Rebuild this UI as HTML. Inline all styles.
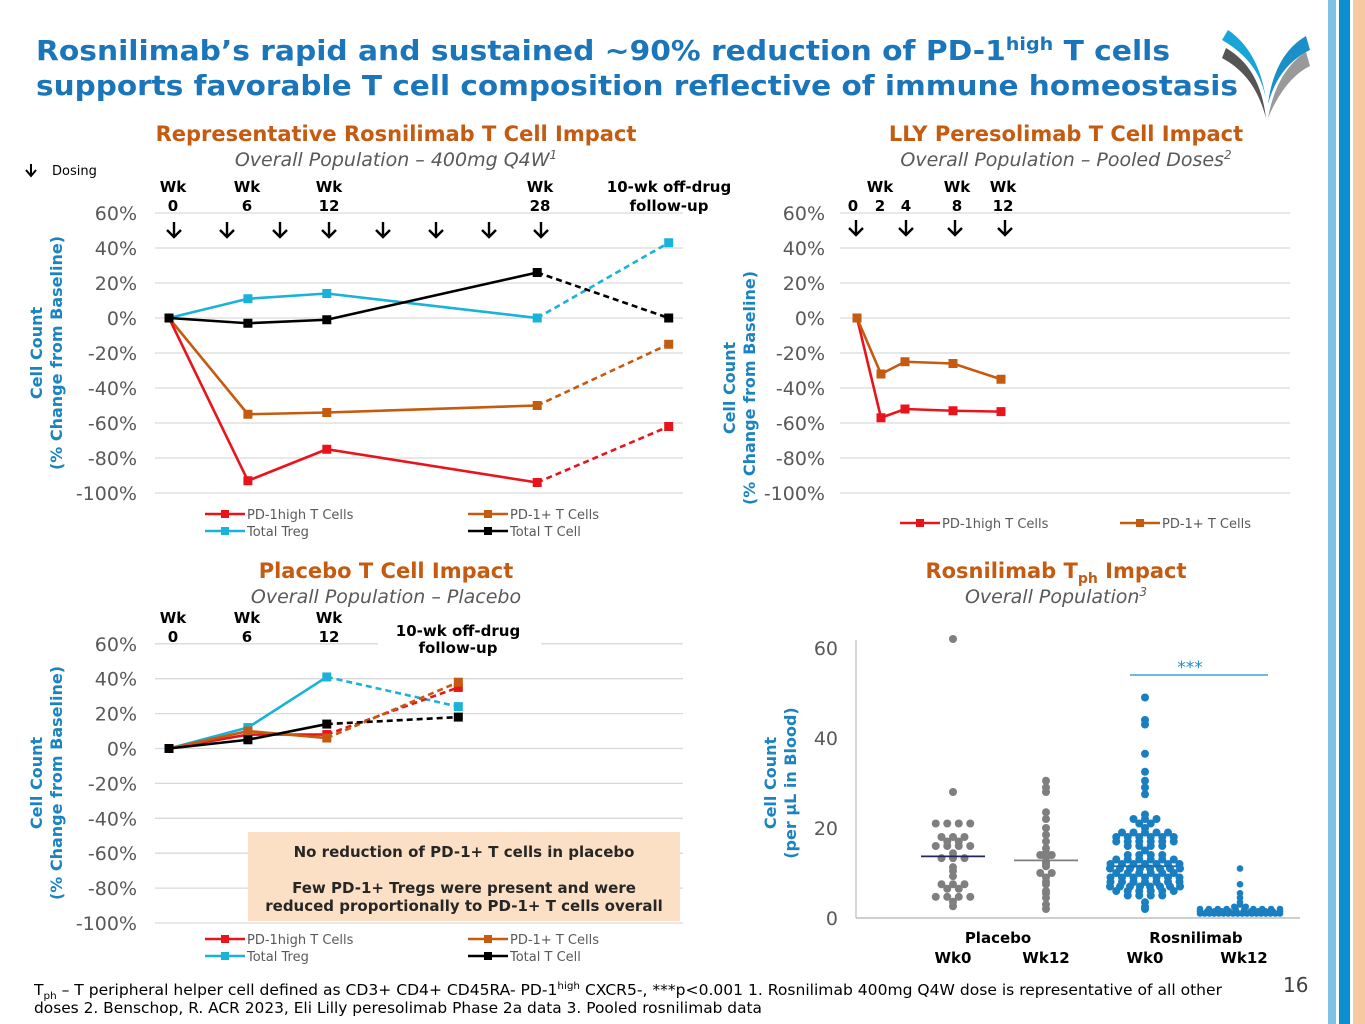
<!DOCTYPE html>
<html><head><meta charset="utf-8"><style>
body{margin:0;background:#fff}
svg{display:block;font-family:"DejaVu Sans","Liberation Sans",sans-serif}
</style></head><body>
<svg id="s" width="1365" height="1024" viewBox="0 0 1365 1024" xmlns="http://www.w3.org/2000/svg">
<rect width="1365" height="1024" fill="#fff"/>
<g>
<rect x="1328" y="0" width="8" height="1024" fill="#7cc3e6"/>
<rect x="1339" y="0" width="11" height="1024" fill="#0a8fd0"/>
<rect x="1353" y="0" width="12" height="1024" fill="#f7c9a0"/>
</g>
<g>
<path d="M1228 30 C1250 45 1262 70 1266 100 C1262 75 1248 55 1222 40 Z" fill="#1aa5d8"/>
<path d="M1226 48 C1250 62 1262 85 1266 118 C1258 88 1244 70 1222 58 Z" fill="#555"/>
<path d="M1306 36 C1285 48 1272 72 1268 104 C1276 76 1290 60 1310 50 Z" fill="#1a8fc8"/>
<path d="M1306 52 C1287 64 1274 86 1268 118 C1280 90 1294 74 1310 66 Z" fill="#999"/>
</g>
<text x="36" y="60" font-size="28" font-weight="bold" fill="#1b75bb" textLength="1134" lengthAdjust="spacingAndGlyphs">Rosnilimab’s rapid and sustained ~90% reduction of PD-1<tspan font-size="18" dy="-10">high</tspan><tspan dy="10"> T cells</tspan></text>
<text x="36" y="95" font-size="28" font-weight="bold" fill="#1b75bb" textLength="1202" lengthAdjust="spacingAndGlyphs">supports favorable T cell composition reflective of immune homeostasis</text>

<text x="396" y="141" text-anchor="middle" font-size="21" font-weight="bold" fill="#c55a11">Representative Rosnilimab T Cell Impact</text>
<text x="396" y="166" text-anchor="middle" font-size="19" font-style="italic" fill="#595959">Overall Population – 400mg Q4W<tspan font-size="12" dy="-7">1</tspan></text>
<text x="1066" y="141" text-anchor="middle" font-size="21" font-weight="bold" fill="#c55a11">LLY Peresolimab T Cell Impact</text>
<text x="1066" y="166" text-anchor="middle" font-size="19" font-style="italic" fill="#595959">Overall Population – Pooled Doses<tspan font-size="12" dy="-7">2</tspan></text>
<text x="386" y="578" text-anchor="middle" font-size="21" font-weight="bold" fill="#c55a11">Placebo T Cell Impact</text>
<text x="386" y="603" text-anchor="middle" font-size="19" font-style="italic" fill="#595959">Overall Population – Placebo</text>
<text x="1056" y="578" text-anchor="middle" font-size="21" font-weight="bold" fill="#c55a11">Rosnilimab T<tspan font-size="14" dy="5">ph</tspan><tspan dy="-5"> Impact</tspan></text>
<text x="1056" y="603" text-anchor="middle" font-size="19" font-style="italic" fill="#595959">Overall Population<tspan font-size="12" dy="-7">3</tspan></text>

<g>
<path d="M31 164 v11 M26 170 l5 6 l5 -6" stroke="#000" stroke-width="2" fill="none"/>
<text x="52" y="175" font-size="13" fill="#000">Dosing</text>
</g>

<g id="tl"></g>
<g id="tr"></g>
<g id="bl"></g>
<g id="br"></g>

<text x="34" y="995" font-size="15" fill="#000" textLength="1188" lengthAdjust="spacingAndGlyphs">T<tspan font-size="10" dy="4">ph</tspan><tspan dy="-4"> – T peripheral helper cell defined as CD3+ CD4+ CD45RA- PD-1</tspan><tspan font-size="10" dy="-6">high</tspan><tspan dy="6"> CXCR5-, ***p&lt;0.001 1. Rosnilimab 400mg Q4W dose is representative of all other</tspan></text>
<text x="34" y="1013" font-size="15" fill="#000" textLength="728" lengthAdjust="spacingAndGlyphs">doses 2. Benschop, R. ACR 2023, Eli Lilly peresolimab Phase 2a data 3. Pooled rosnilimab data</text>
<text x="1283" y="992" font-size="20" fill="#404040">16</text>
</svg>
<script>
// ---- data ----
const tlWeeks=[0,6,12,28,38];
const tlRed=[0,-93,-75,-94,-62];
const tlOrange=[0,-55,-54,-50,-15];
const tlCyan=[0,11,14,0,43];
const tlBlack=[0,-3,-1,26,0];
const trWeeks=[0,2,4,8,12];
const trRed=[0,-57,-52,-53,-53.5];
const trOrange=[0,-32,-25,-26,-35];
const blWeeks=[0,6,12,22];
const blRed=[0,8,8,35];
const blOrange=[0,10,6,38];
const blCyan=[0,12,41,24];
const blBlack=[0,5,14,18];
const yTicks=[60,40,20,0,-20,-40,-60,-80,-100];
const dotCats=['Placebo Wk0','Placebo Wk12','Rosnilimab Wk0','Rosnilimab Wk12'];
const plWk0=[62,28,21,21,21,21,18,18,18,17,17,16,16,16,16,14.4,13.3,13.3,13.3,11.3,10.5,9.3,7.5,7.5,7.5,6.5,6.5,4.7,4.7,4.7,4.7,3.6,2.6];
const plWk12=[30.5,29,28,23.5,22,20,18.5,17,15.5,14.5,14,14,13.5,12.5,12,11.5,10,10,9,8,7.5,6,5.5,4.5,3,2];
const roWk0=[49,44,43,36.5,32.5,30.5,29,27.5,23,22,22,22,21,21,20,19,19,19,19,19,18,18,18,18,18,18,17,17,17,17,17,17,16,16,16,16,15,14,14,14,14,13,13,13,13,13,13,12,12,12,12,12,12,12,11,11,11,11,11,11,11,11,10,10,10,10,10,10,9,9,9,9,9,9,9,8,8,8,8,8,8,8,7,7,7,7,7,7,7,7,6,6,6,6,6,6,5,5,5,5,3.5,2.5,2];
const roWk12=[11,7.5,5.5,4.5,3.5,3,2.5,2.5,2,2,2,2,2,2,2,2,2,2,1.5,1.5,1.5,1.5,1.5,1.5,1.5,1.5,1.5,1.5,1.5,1.5,1,1,1,1,1,1,1,1,1,1,1,1,1,1,1,1,1,1];
const dotMedians=[13.7,12.8,11.5,1.5];
const dotTicks=[0,20,40,60];
// ---- helpers ----
const NS='http://www.w3.org/2000/svg';
function mk(p,t,a,txt){const e=document.createElementNS(NS,t);for(const k in a)e.setAttribute(k,a[k]);if(txt!==undefined)e.textContent=txt;p.appendChild(e);return e;}
const COL={red:'#e8141c',orange:'#c55a11',cyan:'#19b2d8',black:'#000'};
function yAxisTitle(g,x,y,l1,l2){
 const t=mk(g,'text',{x:x,y:y,'text-anchor':'middle','font-size':16,'font-weight':'bold',fill:'#1b83c0',transform:`rotate(-90 ${x} ${y})`},l1);
 
 const t2=mk(g,'text',{x:x+20,y:y,'text-anchor':'middle','font-size':16,'font-weight':'bold',fill:'#1b83c0',transform:`rotate(-90 ${x+20} ${y})`},l2);
 
}
function lineChart(id,o){
 const g=document.getElementById(id);
 const ys=v=>o.y0-v*o.ky, xs=w=>o.x0+w*o.kx;
 yTicks.forEach(v=>{
  const l=mk(g,'line',{x1:o.gx1,x2:o.gx2,y1:ys(v),y2:ys(v),stroke:'#d9d9d9','stroke-width':1.3});
  
  const t=mk(g,'text',{x:o.tx,y:ys(v)+7,'text-anchor':'end','font-size':19,fill:'#595959'},v+'%');
  
 });
 o.series.forEach(s=>{
  const n=s.vals.length, sol=o.solidN;
  const pts=s.vals.map((v,i)=>[xs(o.weeks[i]),ys(v)]);
  const sp=pts.slice(0,sol).map(p=>p.join(',')).join(' ');
  const l=mk(g,'polyline',{points:sp,fill:'none',stroke:COL[s.c],'stroke-width':2.6});
  
  if(n>sol){const d=pts.slice(sol-1).map(p=>p.join(',')).join(' ');
   const dl=mk(g,'polyline',{points:d,fill:'none',stroke:COL[s.c],'stroke-width':2.6,'stroke-dasharray':'6,4'});
   }
  pts.forEach(p=>{const r=mk(g,'rect',{x:p[0]-4.5,y:p[1]-4.5,width:9,height:9,fill:COL[s.c]});
   });
 });
 o.legend.forEach(L=>{
  const lg=mk(g,'g',{});
  mk(lg,'line',{x1:L[0],x2:L[0]+40,y1:L[1],y2:L[1],stroke:COL[L[2]],'stroke-width':2.6});
  mk(lg,'rect',{x:L[0]+16,y:L[1]-4,width:8,height:8,fill:COL[L[2]]});
  mk(lg,'text',{x:L[0]+42,y:L[1]+5,'font-size':13,fill:'#595959'},L[3]);
 });
 o.wk.forEach(w=>{
  const t=mk(g,'text',{x:w[0],y:w[1],'text-anchor':'middle','font-size':15,'font-weight':'bold',fill:'#000'},w[2]);
  
 });
 o.arrows.forEach(x=>{
  const a=mk(g,'path',{d:`M${x} ${o.ay} v15 M${x-7} ${o.ay+8} l7 7 l7 -7`,stroke:'#000','stroke-width':2.4,fill:'none'});
  
 });
 yAxisTitle(g,o.atx,o.aty,'Cell Count','(% Change from Baseline)');
}
lineChart('tl',{x0:169,kx:13.15,y0:318,ky:1.75,gx1:155,gx2:683,tx:137,weeks:tlWeeks,solidN:4,
 series:[{vals:tlOrange,c:'orange'},{vals:tlRed,c:'red'},{vals:tlCyan,c:'cyan'},{vals:tlBlack,c:'black'}],
 legend:[[205,514,'red','PD-1high T Cells'],[468,514,'orange','PD-1+ T Cells'],[205,531,'cyan','Total Treg'],[468,531,'black','Total T Cell']],
 wk:[[173,192,'Wk'],[173,211,'0'],[247,192,'Wk'],[247,211,'6'],[329,192,'Wk'],[329,211,'12'],[540,192,'Wk'],[540,211,'28'],[669,192,'10-wk off-drug'],[669,211,'follow-up']],
 arrows:[174,227,280,329,383,436,489,541],ay:222,atx:42,aty:353});
lineChart('tr',{x0:857,kx:12,y0:318,ky:1.75,gx1:840,gx2:1290,tx:825,weeks:trWeeks,solidN:5,
 series:[{vals:trRed,c:'red'},{vals:trOrange,c:'orange'}],
 legend:[[900,523,'red','PD-1high T Cells'],[1120,523,'orange','PD-1+ T Cells']],
 wk:[[880,192,'Wk'],[853,211,'0'],[880,211,'2'],[906,211,'4'],[957,192,'Wk'],[957,211,'8'],[1003,192,'Wk'],[1003,211,'12']],
 arrows:[856,906,955,1005],ay:220,atx:735,aty:388});
lineChart('bl',{x0:169,kx:13.15,y0:748.5,ky:1.745,gx1:155,gx2:683,tx:137,weeks:blWeeks,solidN:3,
 series:[{vals:blCyan,c:'cyan'},{vals:blRed,c:'red'},{vals:blOrange,c:'orange'},{vals:blBlack,c:'black'}],
 legend:[[205,939,'red','PD-1high T Cells'],[468,939,'orange','PD-1+ T Cells'],[205,956,'cyan','Total Treg'],[468,956,'black','Total T Cell']],
 wk:[[173,623,'Wk'],[173,642,'0'],[247,623,'Wk'],[247,642,'6'],[329,623,'Wk'],[329,642,'12']],
 arrows:[],ay:0,atx:42,aty:783});
(function(){
 const g=document.getElementById('bl');
 const b=mk(g,'rect',{x:378,y:616,width:163,height:46,fill:'#fff'});
 const t1=mk(g,'text',{x:458,y:636,'text-anchor':'middle','font-size':15,'font-weight':'bold'},'10-wk off-drug');
 mk(g,'text',{x:458,y:653,'text-anchor':'middle','font-size':15,'font-weight':'bold'},'follow-up');
 const bx=mk(g,'rect',{x:248,y:832,width:432,height:89,fill:'#fce0c6'});
 mk(g,'text',{x:464,y:857,'text-anchor':'middle','font-size':15,'font-weight':'bold',fill:'#262626'},'No reduction of PD-1+ T cells in placebo');
 mk(g,'text',{x:464,y:893,'text-anchor':'middle','font-size':15,'font-weight':'bold',fill:'#262626'},'Few PD-1+ Tregs were present and were');
 mk(g,'text',{x:464,y:911,'text-anchor':'middle','font-size':15,'font-weight':'bold',fill:'#262626'},'reduced proportionally to PD-1+ T cells overall');
})();
(function(){
 const g=document.getElementById('br');
 const yD=v=>918-4.5*v;
 const cx=[953,1046,1145,1240];
 const maxW=[70,70,70,80];
 const groups=[plWk0,plWk12,roWk0,roWk12];
 const cols=['#7f7f7f','#7f7f7f','#1a7fc1','#1a7fc1'];
 const a=mk(g,'line',{x1:856,x2:856,y1:640,y2:918,stroke:'#bfbfbf','stroke-width':1.3});
 const bl=mk(g,'line',{x1:856,x2:1300,y1:918,y2:918,stroke:'#bfbfbf','stroke-width':1.5});
 dotTicks.forEach(v=>{const t=mk(g,'text',{x:838,y:yD(v)+7,'text-anchor':'end','font-size':19,fill:'#595959'},v);
  });
 groups.forEach((vals,gi)=>{
  const bins={};
  vals.forEach(v=>{const k=Math.round(v*10);(bins[k]=bins[k]||[]).push(v);});
  Object.keys(bins).forEach(k=>{const arr=bins[k];const n=arr.length;
   const sp=n>1?Math.min(11.5,maxW[gi]/(n-1)):0;
   arr.forEach((v,i)=>{const c=mk(g,'circle',{cx:cx[gi]+(i-(n-1)/2)*sp,cy:yD(v),r:gi==3?3.3:4,fill:cols[gi]});
    });});
  if(gi<3){const m=mk(g,'line',{x1:cx[gi]-32,x2:cx[gi]+32,y1:yD(dotMedians[gi]),y2:yD(dotMedians[gi]),stroke:gi==0?'#1f2a5a':(gi==1?'#7f7f7f':'#1a6fb0'),'stroke-width':1.8});
   }
 });
 const sl=mk(g,'line',{x1:1130,x2:1268,y1:675,y2:675,stroke:'#1a8fd0','stroke-width':1.3});
 const st=mk(g,'text',{x:1190,y:673,'text-anchor':'middle','font-size':17,fill:'#1a8fd0'},'***');
 const xl=[[998,943,'Placebo'],[1196,943,'Rosnilimab'],[953,963,'Wk0'],[1046,963,'Wk12'],[1145,963,'Wk0'],[1244,963,'Wk12']];
 xl.forEach(x=>{const t=mk(g,'text',{x:x[0],y:x[1],'text-anchor':'middle','font-size':15,'font-weight':'bold',fill:'#000'},x[2]);
  });
 yAxisTitle(g,776,783,'Cell Count','(per µL in Blood)');
})();
</script>
</body></html>
